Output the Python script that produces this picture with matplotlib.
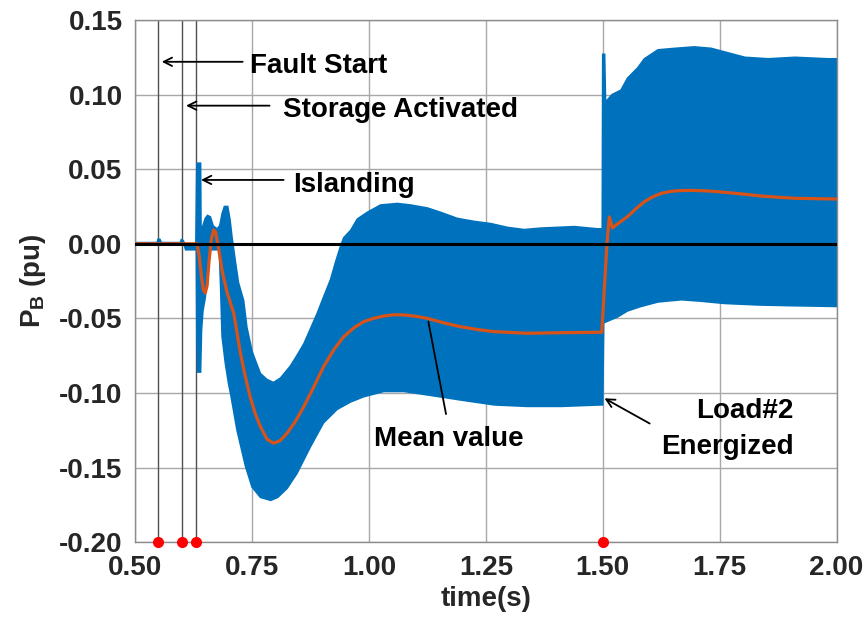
import numpy as np
import matplotlib
matplotlib.use("Agg")
import matplotlib.pyplot as plt

plt.rcParams['font.family'] = ['Liberation Sans', 'DejaVu Sans']
plt.rcParams['font.weight'] = 'bold'
plt.rcParams['axes.labelweight'] = 'bold'
plt.rcParams['mathtext.fontset'] = 'custom'
plt.rcParams['mathtext.rm'] = 'Liberation Sans:bold'
plt.rcParams['mathtext.bf'] = 'Liberation Sans:bold'

# blue signal envelope (upper / lower)
t_up = [0.500, 0.547, 0.549, 0.553, 0.556, 0.597, 0.599, 0.603, 0.606, 0.630,
        0.632, 0.640, 0.641, 0.645, 0.650, 0.655, 0.661, 0.667, 0.675, 0.681,
        0.686, 0.691, 0.698, 0.703, 0.707, 0.714, 0.721, 0.732, 0.739, 0.750,
        0.757, 0.768, 0.782, 0.796, 0.811, 0.832, 0.846, 0.861, 0.875, 0.889,
        0.904, 0.918, 0.929, 0.939, 0.946, 0.961, 0.975, 0.996, 1.025, 1.061,
        1.089, 1.125, 1.154, 1.189, 1.225, 1.261, 1.296, 1.332, 1.368, 1.404,
        1.439, 1.489, 1.499, 1.500, 1.504, 1.506, 1.520, 1.539, 1.553, 1.575,
        1.589, 1.618, 1.654, 1.696, 1.732, 1.768, 1.804, 1.854, 1.911, 1.982,
        2.000]
p_up = [0.0008, 0.0008, 0.003, 0.003, 0.0008, 0.0008, 0.003, 0.002, 0.0, 0.0,
        0.054, 0.054, 0.008, 0.012, 0.017, 0.019, 0.018, 0.012, 0.010, 0.012,
        0.020, 0.025, 0.025, 0.016, 0.005, -0.011, -0.026, -0.038, -0.056, -0.072,
        -0.078, -0.087, -0.091, -0.093, -0.090, -0.082, -0.075, -0.067, -0.057, -0.047,
        -0.035, -0.024, -0.012, -0.002, 0.004, 0.009, 0.0165, 0.021, 0.026, 0.027,
        0.026, 0.024, 0.021, 0.017, 0.015, 0.0135, 0.011, 0.0095, 0.0105, 0.011,
        0.0115, 0.010, 0.010, 0.127, 0.127, 0.095, 0.100, 0.103, 0.111, 0.118,
        0.124, 0.130, 0.131, 0.132, 0.131, 0.128, 0.125, 0.124, 0.125, 0.124,
        0.124]

t_lo = [0.500, 0.605, 0.608, 0.628, 0.631, 0.632, 0.634, 0.640, 0.642, 0.645,
        0.650, 0.655, 0.660, 0.680, 0.683, 0.686, 0.693, 0.700, 0.704, 0.718,
        0.736, 0.750, 0.768, 0.790, 0.805, 0.825, 0.846, 0.875, 0.903, 0.932,
        0.961, 0.989, 1.032, 1.075, 1.125, 1.196, 1.268, 1.339, 1.411, 1.496,
        1.500, 1.502, 1.532, 1.553, 1.582, 1.618, 1.668, 1.711, 1.761, 1.832,
        1.904, 2.000]
p_lo = [-0.0008, -0.0008, -0.004, -0.004, -0.002, -0.058, -0.086, -0.086, -0.058, -0.045,
        -0.036, -0.015, -0.004, -0.004, -0.030, -0.062, -0.080, -0.094, -0.100, -0.125,
        -0.149, -0.163, -0.170, -0.172, -0.170, -0.164, -0.154, -0.136, -0.120, -0.111,
        -0.106, -0.1025, -0.099, -0.099, -0.1013, -0.1047, -0.108, -0.109, -0.109, -0.108,
        -0.108, -0.053, -0.049, -0.045, -0.042, -0.039, -0.0375, -0.0385, -0.040, -0.041,
        -0.0415, -0.042]

# mean value (orange)
t_mean = [0.500, 0.632, 0.637, 0.642, 0.646, 0.650, 0.654, 0.658, 0.663, 0.668,
          0.672, 0.678, 0.686, 0.697, 0.711, 0.725, 0.735, 0.746, 0.757, 0.768,
          0.782, 0.796, 0.810, 0.825, 0.843, 0.861, 0.882, 0.903, 0.925, 0.946,
          0.968, 0.989, 1.010, 1.032, 1.053, 1.075, 1.100, 1.125, 1.160, 1.196,
          1.232, 1.268, 1.339, 1.411, 1.498, 1.509, 1.514, 1.521, 1.530, 1.553,
          1.571, 1.589, 1.607, 1.625, 1.643, 1.661, 1.686, 1.711, 1.740, 1.768,
          1.804, 1.839, 1.875, 1.911, 2.000]
p_mean = [0.0, 0.0, -0.008, -0.022, -0.031, -0.033, -0.028, -0.012, 0.003, 0.0093,
          0.008, -0.002, -0.018, -0.033, -0.0466, -0.073, -0.088, -0.1025, -0.114, -0.1226,
          -0.131, -0.1337, -0.132, -0.127, -0.119, -0.109, -0.096, -0.0824, -0.071, -0.0623,
          -0.0563, -0.0522, -0.050, -0.0484, -0.0476, -0.0477, -0.0486, -0.050, -0.053, -0.0556,
          -0.0575, -0.0589, -0.060, -0.0596, -0.0593, 0.0, 0.018, 0.0106, 0.013, 0.0182,
          0.0235, 0.0282, 0.0315, 0.0338, 0.0350, 0.0356, 0.0358, 0.0356, 0.0351, 0.0343,
          0.0332, 0.032, 0.0312, 0.0305, 0.030]

events = [0.55, 0.60, 0.63, 1.50]
event_lines = [0.55, 0.60, 0.63]
x_ticks = [0.50, 0.75, 1.00, 1.25, 1.50, 1.75, 2.00]
x_labels = ['0.50', '0.75', '1.00', '1.25', '1.50', '1.75', '2.00']
y_ticks = [-0.20, -0.15, -0.10, -0.05, 0.00, 0.05, 0.10, 0.15]
y_labels = ['-0.20', '-0.15', '-0.10', '-0.05', '0.00', '0.05', '0.10', '0.15']

fig = plt.figure(figsize=(8.66, 6.26), dpi=100)
ax = fig.add_axes([0.156, 0.134, 0.81, 0.834])

ax.fill(np.concatenate([t_up, t_lo[::-1]]), np.concatenate([p_up, p_lo[::-1]]),
        color='#0072BD', lw=1.2, edgecolor='#0072BD', zorder=2)
ax.plot(t_mean, p_mean, color='#D95319', lw=2.3, zorder=3)
ax.axhline(0, color='black', lw=2.2, zorder=4)
for x in event_lines:
    ax.axvline(x, color='#505050', lw=1.0, zorder=1)
ax.plot(events, [-0.2] * len(events), 'o', color='red', ms=7, clip_on=False, zorder=5)

ax.set_xlim(0.5, 2.0)
ax.set_ylim(-0.2, 0.15)
ax.set_xticks(x_ticks)
ax.set_yticks(y_ticks)
ax.set_xticklabels(x_labels)
ax.set_yticklabels(y_labels)
ax.tick_params(labelsize=20, colors='#262626', length=0, pad=9)
ax.grid(True, color='#a8a8a8', lw=1.0, zorder=0)
ax.set_axisbelow(True)
for s in ax.spines.values():
    s.set_color('#8c8c8c')
    s.set_linewidth(1.0)

ax.set_xlabel('time(s)', fontsize=20, color='#262626', fontweight='bold', labelpad=4)
ax.set_ylabel(r'$\mathrm{P_B}$ (pu)', fontsize=20, color='#262626', fontweight='bold', labelpad=8)

arr = dict(arrowstyle='->,head_length=0.6,head_width=0.3', color='black', lw=1.3)
ax.annotate('', xy=(0.551, 0.122), xytext=(0.736, 0.122), arrowprops=arr)
ax.annotate('', xy=(0.603, 0.0926), xytext=(0.7935, 0.0926), arrowprops=arr)
ax.annotate('', xy=(0.635, 0.0428), xytext=(0.8236, 0.0428), arrowprops=arr)
ax.annotate('', xy=(1.126, -0.0504), xytext=(1.166, -0.116),
            arrowprops=dict(arrowstyle='-', color='black', lw=1.3))
ax.annotate('', xy=(1.4985, -0.1027), xytext=(1.6056, -0.1214), arrowprops=arr)

ax.text(0.746, 0.1147, 'Fault Start', fontsize=20, va='baseline')
ax.text(0.817, 0.0848, 'Storage Activated', fontsize=20, va='baseline')
ax.text(0.8386, 0.035, 'Islanding', fontsize=20, va='baseline')
ax.text(1.010, -0.1355, 'Mean value', fontsize=20, va='baseline')
ax.text(1.908, -0.117, 'Load#2', fontsize=20, va='baseline', ha='right')
ax.text(1.908, -0.1409, 'Energized', fontsize=20, va='baseline', ha='right')

fig.savefig('out.png', dpi=100)
